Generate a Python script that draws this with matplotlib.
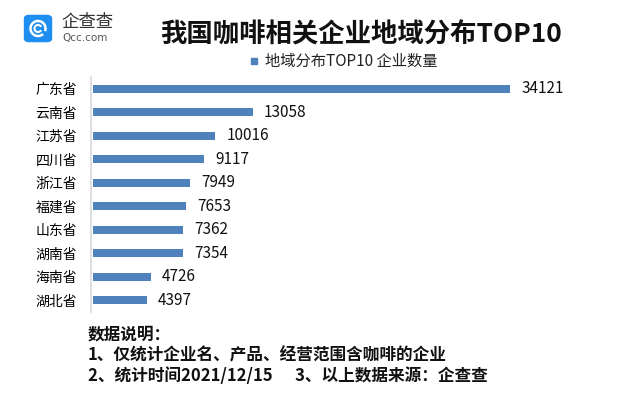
import matplotlib
matplotlib.use("Agg")
import matplotlib.pyplot as plt
from matplotlib.patches import FancyBboxPatch, Rectangle, Arc

plt.rcParams['font.family'] = ['Noto Sans CJK SC', 'DejaVu Sans']

provinces = ["广东省", "云南省", "江苏省", "四川省", "浙江省", "福建省", "山东省", "湖南省", "海南省", "湖北省"]
counts = [34121, 13058, 10016, 9117, 7949, 7653, 7362, 7354, 4726, 4397]
title = "我国咖啡相关企业地域分布TOP10"
legend_label = "地域分布TOP10 企业数量"
notes = ["数据说明：", "1、仅统计企业名、产品、经营范围含咖啡的企业", "2、统计时间2021/12/15      3、以上数据来源：企查查"]

W, H = 626, 394
fig = plt.figure(figsize=(W / 100, H / 100), dpi=100)
bar_color = "#4F81BD"

ax_l, ax_r, ax_t, ax_b = 91, 600, 77, 312
ax = fig.add_axes([ax_l / W, 1 - ax_b / H, (ax_r - ax_l) / W, (ax_b - ax_t) / H])
xmax = counts[0] * (ax_r - ax_l) / (510 - ax_l)
y = list(range(len(provinces)))
ax.barh(y, counts, height=0.36, color=bar_color, left=0)
ax.set_xlim(-150, xmax)
ax.set_ylim(len(provinces) - 0.5, -0.5)
ax.set_yticks(y)
ax.set_yticklabels(provinces, fontsize=11.3, color="#222222")
ax.tick_params(axis="y", length=0, pad=10)
ax.set_xticks([])
for s in ["top", "right", "bottom"]:
    ax.spines[s].set_visible(False)
ax.spines["left"].set_color("#D9D9D9")
ax.spines["left"].set_linewidth(1.2)
ax.spines["left"].set_position(("data", -150))
for yi, v in zip(y, counts):
    ax.text(v + 900, yi, str(v), va="center", ha="left", fontsize=11, color="#111111")

# title
fig.text(361 / W, 1 - 35 / H, title, ha="center", va="center", fontsize=19, fontweight="bold", color="#111111")

# legend
fig.patches.append(Rectangle((251 / W, 1 - 64 / H), 6 / W, 6 / H, transform=fig.transFigure, color=bar_color))
fig.text(265 / W, 1 - 61 / H, legend_label, ha="left", va="center", fontsize=11, color="#222222")

# logo
fig.patches.append(FancyBboxPatch((27 / W, 1 - 40 / H), 22 / W, 23 / H, boxstyle="round,pad=0.004,rounding_size=0.008",
                                  transform=fig.transFigure, color="#1E8FF0"))
fig.patches.append(Arc((38 / W, 1 - 28.5 / H), 15 / W, 15 / H, theta1=-30, theta2=300, transform=fig.transFigure,
                       color="white", lw=1.8))
fig.patches.append(Arc((38 / W, 1 - 28.5 / H), 7 / W, 7 / H, theta1=40, theta2=320, transform=fig.transFigure,
                       color="white", lw=1.5))
fig.text(61 / W, 1 - 22 / H, "企查查", ha="left", va="center", fontsize=12.5, color="#333333")
fig.text(62 / W, 1 - 38 / H, "Qcc.com", ha="left", va="center", fontsize=7.5, color="#555555", family="DejaVu Sans")

# notes
ys = [334, 355, 376]
for t, yy in zip(notes, ys):
    fig.text(88 / W, 1 - yy / H, t, ha="left", va="center", fontsize=12, fontweight="bold", color="#111111")

fig.savefig("out.png", dpi=100, facecolor="white")
